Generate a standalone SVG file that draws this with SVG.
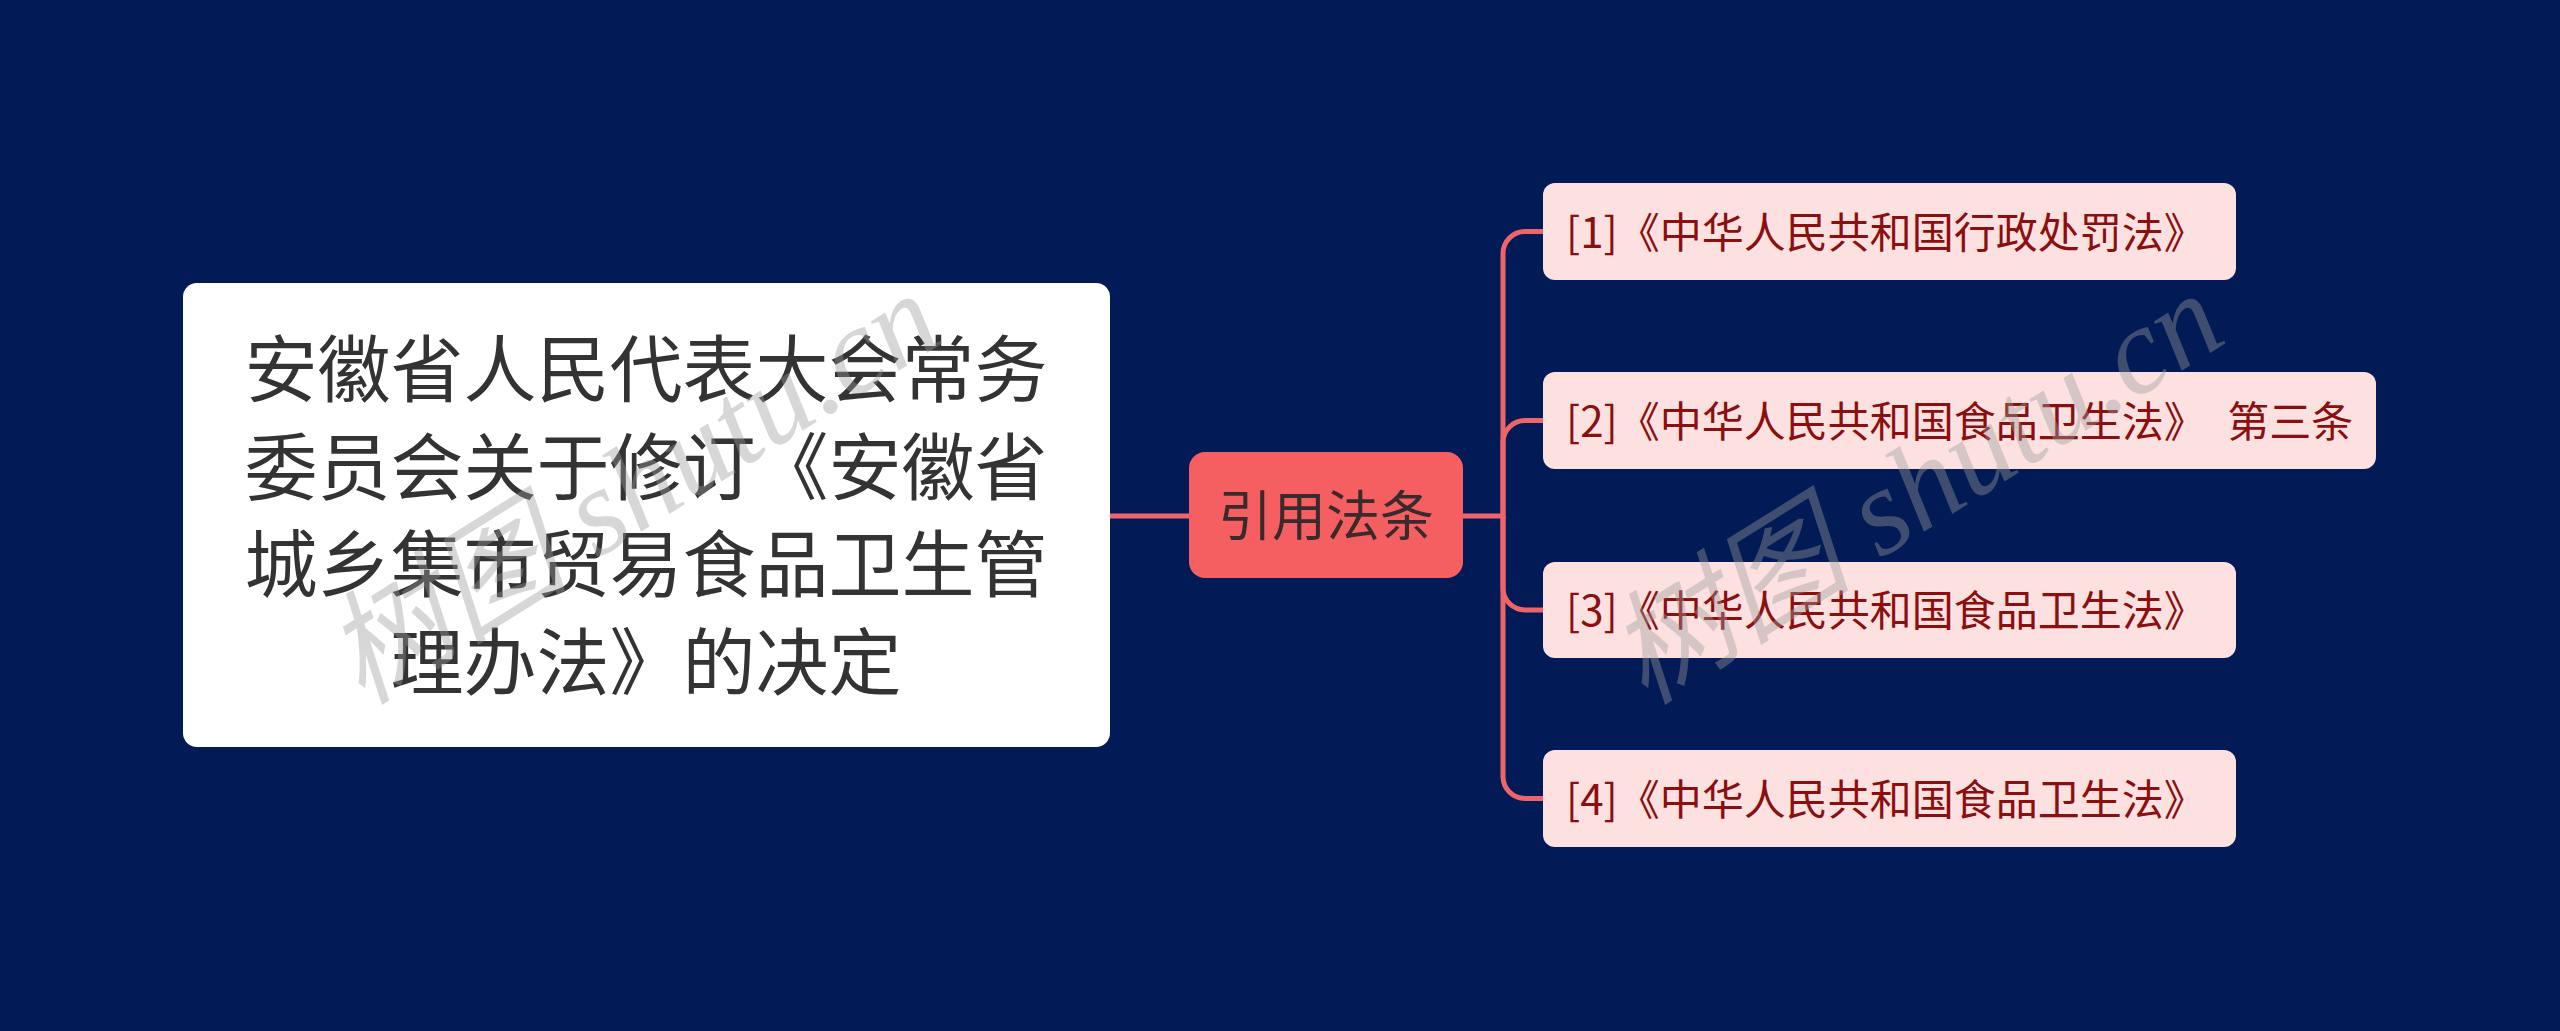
<svg xmlns="http://www.w3.org/2000/svg" width="2560" height="1031" viewBox="0 0 2560 1031">
<style>
.bg{fill:#021a55}
.root rect{fill:#ffffff}
.root text{fill:#333333;font-family:"Noto Sans CJK SC","Noto Sans",sans-serif;font-size:73px}
.mid rect{fill:#f65f61}
.mid text{fill:#3a2a2c;font-family:"Noto Sans CJK SC","Noto Sans",sans-serif;font-size:54px}
.leaf rect{fill:#fde1e1}
.leaf text{fill:#8b0f0f;font-family:"Noto Sans CJK SC","Noto Sans",sans-serif;font-size:42px}
.conn path{fill:none;stroke:#ee6468;stroke-width:5;stroke-linecap:butt}
.wm{fill:#9a9a9a;fill-opacity:0.4;font-family:"Liberation Serif","Noto Sans CJK SC",serif;font-style:italic;font-size:123px}
</style>
<rect class="bg" x="0" y="0" width="2560" height="1031"/>
<g id="connectors" class="conn">
<path d="M1110,516 H1189"/>
<path d="M1463,516 H1503 V253.5 A22,22 0 0 1 1525,231.5 H1543"/>
<path d="M1503,516 V442.5 A22,22 0 0 1 1525,420.5 H1543"/>
<path d="M1503,516 V588 A22,22 0 0 0 1525,610 H1543"/>
<path d="M1503,516 V776.5 A22,22 0 0 0 1525,798.5 H1543"/>
</g>
<g id="root" class="root">
<rect x="183" y="283" width="927" height="464" rx="14" ry="14"/>
<text text-anchor="middle" x="646" y="396">安徽省人民代表大会常务</text>
<text text-anchor="middle" x="646" y="494">委员会关于修订《安徽省</text>
<text text-anchor="middle" x="646" y="591">城乡集市贸易食品卫生管</text>
<text text-anchor="middle" x="646" y="689">理办法》的决定</text>
</g>
<g id="mid" class="mid">
<rect x="1189" y="452" width="274" height="126" rx="16" ry="16"/>
<text text-anchor="middle" x="1326" y="536">引用法条</text>
</g>
<g id="leaf1" class="leaf">
<rect x="1543" y="183" width="693" height="97" rx="12" ry="12"/>
<text x="1566" y="247.5">[1]《中华人民共和国行政处罚法》</text>
</g>
<g id="leaf2" class="leaf">
<rect x="1543" y="372" width="833" height="97" rx="12" ry="12"/>
<text x="1566" y="436.5" xml:space="preserve">[2]《中华人民共和国食品卫生法》 <tspan dx="12">第三条</tspan></text>
</g>
<g id="leaf3" class="leaf">
<rect x="1543" y="562" width="693" height="96" rx="12" ry="12"/>
<text x="1566" y="626">[3]《中华人民共和国食品卫生法》</text>
</g>
<g id="leaf4" class="leaf">
<rect x="1543" y="750" width="693" height="97" rx="12" ry="12"/>
<text x="1566" y="814.5">[4]《中华人民共和国食品卫生法》</text>
</g>
<g id="watermarks">
<text class="wm" transform="translate(362,706) rotate(-32)">树图 shutu.cn</text>
<text class="wm" transform="translate(1645,706) rotate(-32)">树图 shutu.cn</text>
</g>
</svg>
